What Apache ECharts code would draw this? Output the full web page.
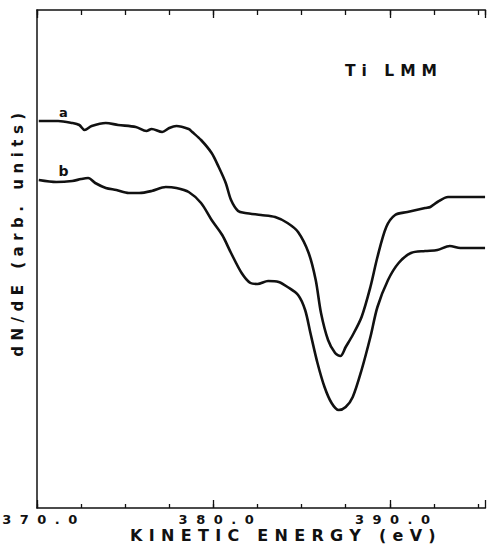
<!DOCTYPE html>
<html><head><meta charset="utf-8">
<script src="https://cdn.jsdelivr.net/npm/echarts@6/dist/echarts.min.js"></script>
<style>html,body{margin:0;padding:0;background:#fff}#c{width:488px;height:557px}</style>
</head><body><div id="c"></div>
<script>
// Kinetic energy (eV) and dN/dE (arb. units) for curve a
const energyA = [370.1,371.2,372.0,372.4,372.7,373.1,373.9,374.6,375.6,376.2,376.5,377.1,377.5,377.9,378.6,378.8,379.3,379.9,380.3,380.7,381.0,381.4,381.8,382.7,383.5,384.2,384.8,385.4,385.8,386.1,386.5,386.9,387.2,387.5,387.9,388.4,388.9,389.3,389.8,390.3,391.0,392.0,392.3,392.7,393.3,394.2,395.1,395.4];
const signalA = [387,387,385,383,378,382,385,383,381,377,379,376,380,382,379,376,368,355,341,325,308,297,295,293,291,285,276,255,228,195,168,155,152,161,173,191,221,251,281,293,296,300,301,306,311,311,311,311];
// curve b
const energyB = [370.1,371.1,372.0,372.5,372.9,373.3,373.9,374.5,375.2,375.8,376.5,377.3,377.9,378.6,379.3,379.9,380.5,381.0,381.6,382.1,382.5,383.1,383.7,384.2,384.8,385.2,385.5,385.9,386.3,386.7,387.1,387.5,387.9,388.4,388.9,389.3,389.9,390.5,391.2,392.0,392.7,393.4,394.0,395.1,395.4];
const signalB = [328,326,327,329,330,325,320,318,315,315,317,321,320,316,305,288,273,255,235,225,224,227,226,221,213,198,175,145,121,105,98,101,111,138,171,201,228,245,255,257,258,262,260,260,260];
const tickLabels = ['370.0','380.0','390.0'];
const curveLabels = ['a','b'];
const xName = 'KINETIC ENERGY (eV)';
const yName = 'dN/dE (arb. units)';
const title = 'Ti LMM';

const FONT = '"DejaVu Sans", sans-serif';
const chart = echarts.init(document.getElementById('c'), null, {renderer: 'svg'});
const toPairs = (xs, ys) => xs.map((x, i) => [x, ys[i]]);
const black = '#111';
const xCommon = {type: 'value', min: 370, max: 395.42, splitLine: {show: false}};
chart.setOption({
  animation: false,
  backgroundColor: '#fff',
  grid: {left: 37, right: 1, top: 10, bottom: 49},
  xAxis: [
    Object.assign({}, xCommon, {position: 'bottom', interval: 2.5,
      axisLine: {lineStyle: {color: black, width: 1.5}},
      axisTick: {inside: true, length: 4, lineStyle: {color: black, width: 1.3}},
      axisLabel: {showMaxLabel: false, color: black, fontFamily: FONT, fontWeight: 'bold', fontSize: 13, lineHeight: 13, margin: 5, padding: [0,0,0,14],
        formatter: v => { const i = [370,380,390].indexOf(v); return i >= 0 ? tickLabels[i] : ''; }}}),
    Object.assign({}, xCommon, {position: 'bottom', interval: 10,
      axisLine: {show: false}, axisTick: {inside: true, length: 8, lineStyle: {color: black, width: 1.3}},
      axisLabel: {show: false}}),
    Object.assign({}, xCommon, {position: 'top', interval: 2.5,
      axisLine: {lineStyle: {color: black, width: 1.5}},
      axisTick: {inside: true, length: 5, lineStyle: {color: black, width: 1.3}},
      axisLabel: {show: false}}),
    Object.assign({}, xCommon, {position: 'top', interval: 10,
      axisLine: {show: false}, axisTick: {inside: true, length: 8, lineStyle: {color: black, width: 1.3}},
      axisLabel: {show: false}})
  ],
  yAxis: {type: 'value', min: 0, max: 498, axisLine: {show: true, lineStyle: {color: black, width: 1.5}},
    axisTick: {show: false}, axisLabel: {show: false}, splitLine: {show: false}},
  series: [
    {type: 'line', data: toPairs(energyA, signalA), smooth: 0.3, showSymbol: false, lineStyle: {color: black, width: 2.6}},
    {type: 'line', data: toPairs(energyB, signalB), smooth: 0.3, showSymbol: false, lineStyle: {color: black, width: 2.6}}
  ],
  graphic: [
    {type: 'text', x: 394, y: 71, style: {text: title, fill: black, font: 'bold 15.5px ' + FONT, textAlign: 'center', textVerticalAlign: 'middle'}},
    {type: 'text', x: 63.5, y: 112, style: {text: curveLabels[0], fill: black, font: 'bold 13px ' + FONT, textAlign: 'center', textVerticalAlign: 'middle'}},
    {type: 'text', x: 63.5, y: 170.5, style: {text: curveLabels[1], fill: black, font: 'bold 14px ' + FONT, textAlign: 'center', textVerticalAlign: 'middle'}},
    {type: 'text', x: 286, y: 535.5, style: {text: xName, fill: black, font: 'bold 16px ' + FONT, textAlign: 'center', textVerticalAlign: 'middle'}},
    {type: 'text', x: 18, y: 232, rotation: Math.PI / 2, style: {text: yName, fill: black, font: 'bold 15px ' + FONT, textAlign: 'center', textVerticalAlign: 'middle'}}
  ]
});
const spacing = {'370.0': 8.5, '380.0': 8.5, '390.0': 8.5, 'KINETIC ENERGY (eV)': 6.3, 'dN/dE (arb. units)': 5.5, 'Ti LMM': 6};
function applySpacing() {
  document.querySelectorAll('#c text').forEach(t => {
    const s = spacing[t.textContent.trim()];
    if (s) t.style.letterSpacing = s + 'px';
  });
}
applySpacing();
chart.on('finished', applySpacing);
setTimeout(applySpacing, 50);
</script>
</body></html>
